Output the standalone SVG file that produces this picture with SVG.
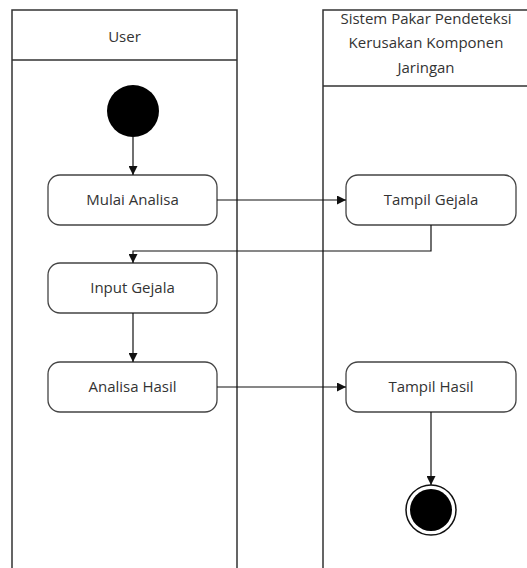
<svg xmlns="http://www.w3.org/2000/svg" width="527" height="568" viewBox="0 0 527 568">
<defs>
<style>
.lane{fill:none;stroke:#333;stroke-width:1.5}
.act{fill:#fff;stroke:#444;stroke-width:1.3}
.t{font-family:"Open Sans",sans-serif;font-size:15px;fill:#333;text-anchor:middle}
.c{fill:none;stroke:#111;stroke-width:1.2}
</style>
<marker id="ah" viewBox="0 0 10 10" refX="10" refY="5" markerWidth="9" markerHeight="9" markerUnits="userSpaceOnUse" orient="auto"><path d="M0,0 L10,5 L0,10 z" fill="#111"/></marker>
</defs>
<rect width="527" height="568" fill="#fff"/>
<g id="lane-user">
<path class="lane" d="M12,568 V10 H237 V568 M12,60 H237"/>
<text class="t" x="124.5" y="42">User</text>
</g>
<g id="lane-sistem">
<path class="lane" d="M323,568 V10 H527 M323,86 H527"/>
<text class="t" x="426" y="24">Sistem Pakar Pendeteksi</text>
<text class="t" x="426" y="48">Kerusakan Komponen</text>
<text class="t" x="426" y="73">Jaringan</text>
</g>
<g id="start"><circle cx="133" cy="111" r="26" fill="#000"/></g>
<g id="mulai"><rect class="act" x="48" y="175" width="169" height="50" rx="12"/><text class="t" x="132.5" y="205">Mulai Analisa</text></g>
<g id="tampil-gejala"><rect class="act" x="346" y="175" width="170" height="50" rx="12"/><text class="t" x="431" y="205">Tampil Gejala</text></g>
<g id="input"><rect class="act" x="48" y="263" width="169" height="50" rx="12"/><text class="t" x="132.5" y="293">Input Gejala</text></g>
<g id="analisa"><rect class="act" x="48" y="362" width="169" height="50" rx="12"/><text class="t" x="132.5" y="392">Analisa Hasil</text></g>
<g id="tampil-hasil"><rect class="act" x="346" y="362" width="170" height="50" rx="12"/><text class="t" x="431" y="392">Tampil Hasil</text></g>
<g id="end"><circle cx="431" cy="510" r="25" fill="#fff" stroke="#111" stroke-width="1.5"/><circle cx="431" cy="510" r="21" fill="#000"/></g>
<g id="connectors">
<path class="c" d="M133,137 V175" marker-end="url(#ah)"/>
<path class="c" d="M217,200 H346" marker-end="url(#ah)"/>
<path class="c" d="M431,225 V251 H133 V263" marker-end="url(#ah)"/>
<path class="c" d="M133,313 V362" marker-end="url(#ah)"/>
<path class="c" d="M217,387 H346" marker-end="url(#ah)"/>
<path class="c" d="M431,412 V485" marker-end="url(#ah)"/>
</g>
</svg>
